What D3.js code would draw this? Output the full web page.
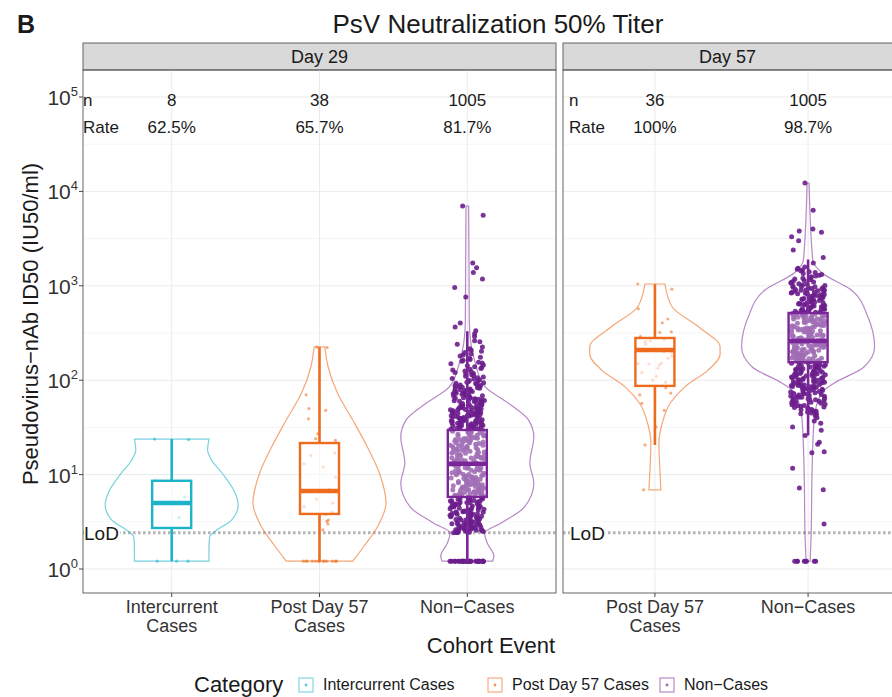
<!DOCTYPE html>
<html>
<head>
<meta charset="utf-8">
<script src="https://cdn.jsdelivr.net/npm/d3@7"></script>
<style>
  body { margin: 0; background: #fff; }
  text { font-family: "Liberation Sans", Arial, Helvetica, sans-serif; fill: #1a1a1a; }
</style>
</head>
<body>
<svg id="chart" width="892" height="697"></svg>
<script>
// ---- data ----
const titleText = "PsV Neutralization 50% Titer";
const panelTag = "B";
const facetLabels = ["Day 29", "Day 57"];
const groupNames = ["Intercurrent Cases", "Post Day 57 Cases", "Non-Cases"];
const day29Groups = ["Intercurrent Cases", "Post Day 57 Cases", "Non-Cases"];
const day57Groups = ["Post Day 57 Cases", "Non-Cases"];
const tickLabelLines = [["Intercurrent", "Cases"], ["Post Day 57", "Cases"], ["Non\u2212Cases"]];
const day29N = [8, 38, 1005];
const day29Rate = ["62.5%", "65.7%", "81.7%"];
const day57N = [36, 1005];
const day57Rate = ["100%", "98.7%"];
const lodValue = 2.42;
const yTicks = [1, 10, 100, 1000, 10000, 100000];

// box stats: [lower whisker, q1, median, q3, upper whisker]
const day29Boxes = [[1.21, 2.72, 5.0, 8.6, 23.8], [1.21, 3.83, 6.7, 21.6, 224], [1.21, 5.8, 13, 29.7, 330]];
const day57Boxes = [[20.6, 87, 209, 280, 1040], [26, 155, 260, 515, 1900]];

// violin outlines: [titer, relative density]
const interD29Violin = [[23.8,0.56],[18.2,0.54],[14.3,0.6],[9.9,0.78],[6.9,0.93],[4.76,1.0],[3.3,0.9],[2.59,0.68],[2.18,0.57],[1.59,0.56],[1.21,0.56]];
const postD29Violin = [[225,0.08],[138,0.13],[73,0.27],[37.8,0.5],[19.6,0.72],[10.4,0.9],[5.0,1.0],[2.79,0.87],[1.71,0.66],[1.21,0.5]];
const nonD29Violin = [[7000,0.02],[404,0.03],[152,0.12],[85,0.27],[57,0.62],[38,0.92],[25,1.0],[13.3,0.94],[8.1,1.0],[4.54,0.86],[3.07,0.51],[2.41,0.26],[1.88,0.3],[1.37,0.4],[1.21,0.38]];
const postD57Violin = [[1045,0.15],[596,0.26],[366,0.66],[225,0.98],[190,0.98],[128,0.8],[85,0.45],[57,0.23],[35,0.11],[21.6,0.06],[11.2,0.075],[6.9,0.09]];
const nonD57Violin = [[12270,0.015],[1876,0.07],[1367,0.21],[903,0.65],[467,0.9],[225,1.0],[138,0.84],[93,0.39],[73,0.2],[38,0.09],[11.2,0.06],[2.18,0.045],[1.21,0.03]];

// individual titers (approximate readings)
const interD29Points = [23.8, 23.5, 8.6, 5.8, 3.5, 1.21, 1.21, 1.21];
const postD29Points = [224, 222, 70, 50, 48, 39, 27, 24, 23, 17, 16, 13, 12, 9.4, 7.0, 6.7, 5.5, 5.0, 4.6, 4.0, 3.8, 3.3, 3.2, 3.0, 2.6,
  1.21, 1.21, 1.21, 1.21, 1.21, 1.21, 1.21, 1.21, 1.21, 1.21, 1.21, 1.21, 1.21];
const nonD29Points = [
  1.21,1.21,1.21,1.21,1.21,1.21,1.21,1.21,1.21,1.21,1.21,1.21,1.21,1.21,1.21,1.21,1.21,1.21,1.21,1.21,1.21,1.21,1.21,1.21,
  1.21,1.21,1.21,1.21,1.21,1.21,
  2.42,2.43,2.45,2.49,2.5,2.53,2.58,2.6,2.61,2.66,2.7,2.71,2.76,2.8,2.84,2.85,2.9,2.97,3,3.02,3.1,3.12,3.15,3.22,3.25,3.3,
  3.38,3.4,3.41,3.5,3.55,3.6,3.68,3.7,3.79,3.85,3.9,3.98,4.05,4.1,4.18,4.2,4.3,4.41,4.45,4.5,4.62,4.7,4.75,4.88,4.9,5.02,
  5.1,5.2,5.28,5.4,5.5,5.55,5.68,5.75,
  2.44,2.47,2.51,2.55,2.57,2.63,2.68,2.73,2.78,2.82,2.88,2.93,2.95,3.05,3.08,3.18,3.2,3.28,3.33,3.45,3.48,3.58,3.63,3.75,
  3.82,3.88,3.95,4.02,4.12,4.25,4.35,4.38,4.55,4.58,4.66,4.8,4.85,4.95,5.05,5.15,5.25,5.33,5.45,5.6,5.72,2.56,2.9,3.35,3.9,4.6,
  5.8,5.85,5.9,6,6.05,6.1,6.2,6.25,6.3,6.4,6.45,6.5,6.6,6.7,6.75,6.8,6.9,7,7.05,7.1,7.2,7.3,7.4,7.5,7.6,7.7,7.8,7.9,8,8.1,
  8.2,8.3,8.45,8.55,8.7,8.8,8.95,9.1,9.2,9.35,9.5,9.6,9.8,9.95,10.1,10.3,10.45,10.6,10.8,11,11.15,11.3,11.5,11.7,11.9,12.1,
  12.3,12.5,12.7,12.9,13.1,13.3,13.6,13.8,14,14.3,14.5,14.8,15,15.3,15.6,15.9,16.2,16.5,16.8,17.1,17.4,17.7,18,18.4,18.7,
  19.1,19.4,19.8,20.2,20.5,20.9,21.3,21.7,22.1,22.5,23,23.4,23.9,24.3,24.8,25.3,25.8,26.3,26.8,27.3,27.8,28.4,29,29.5,
  5.95,6.15,6.35,6.55,6.85,7.15,7.45,7.75,8.05,8.35,8.65,9,9.3,9.65,10,10.35,10.7,11.1,11.4,11.8,12.2,12.6,13,13.45,13.9,
  14.4,14.9,15.4,15.8,16.3,16.9,17.5,18.1,18.6,19.2,19.9,20.4,21,21.6,22.3,22.8,23.6,24.1,24.6,25.6,26.1,27,27.6,28.2,28.8,
  29.2,6.6,7.8,9.9,12.4,15.1,18.9,22.7,26.5,8.9,
  30,30.6,31.2,31.5,32.1,32.8,33.5,34,34.2,35,35.8,36.4,37,37.5,38.4,39,39.8,40.5,41.4,42,42.9,43.7,44.5,45.3,46.4,47.2,
  48,49.3,50,51.2,52.4,53.4,54.8,56,57.2,58.7,60,61.5,63,64.4,66,67.8,69.5,71,73,75,77,79.6,82,84,86.5,89,92,95,98,101,
  30.3,30.9,31.8,32.4,33.1,33.8,34.6,35.3,36.1,36.8,37.3,38,38.8,39.4,40.1,40.9,41.7,42.4,43.3,44.1,44.9,45.8,46.8,47.6,
  48.6,49.7,50.5,51.7,52.9,54,55.3,56.5,57.8,59.3,60.6,62.2,63.6,65.2,66.8,68.5,70.3,72,74,76,78,80.6,83,85,87.5,90,93,
  96.5,99,31.4,33.3,35.6,37.8,40.3,42.7,45.6,48.3,51.6,54.4,57.5,61,64.8,68.8,72.6,77.6,81.8,88,94,34.9,39.1,43.9,49,
  55.6,62.6,70.6,79,
  103,106,110,114,118,123,128,133,139,145,152,159,166,175,185,196,208,225,262,310,
  104,108,112,116,121,125,131,136,142,149,155,163,170,180,190,202,215,240,255,290,335,365,404,760,960,1180,1380,1550,1740,5600,7000];
const postD57Points = [1045, 920, 570, 445, 405, 325, 320, 290, 270, 260, 255, 240, 215, 210, 205, 200, 195, 180, 170, 152, 150,
  148, 145, 134, 120, 110, 100, 95, 83, 73, 70, 57, 48, 32, 20.6, 6.9];
const nonD57Points = [
  1.21,1.21,1.21,1.21,1.21,1.21,1.21,1.21,
  3.0,6.9,7.2,11.7,17,17.5,21,22,26,29.5,32,35,37,40,
  42,43.5,45,46,47.5,49,50,51.5,53,54,55.5,57,58,59.5,61,62,63.5,65,66.5,68,69,70.5,72,73.5,75,76.5,78,80,81.5,83,85,86.5,
  88,90,92,93.5,95,97,99,101,103,105,107,109,111,113,115.5,118,120,122.5,125,127.5,130,132.5,135,138,140.5,143,146,149,152,
  44,45.5,47,48.5,50.5,52,53.5,55,56.5,58.5,60,61.5,63,64.5,66,67.5,69.5,71,72.5,74,75.8,77.3,79,80.8,82.3,84,85.8,87.3,
  89,91,92.8,94.3,96,98,100,102,104,106,108,110,112,114.5,117,119,121.5,124,126.5,129,131.5,134,136.5,139,142,145,148,
  151,154,66,88,117,
  156,158,160,162,164,166,168,170,172,174,176,178,180,183,185,187,190,192,195,197,200,202,205,208,210,213,216,219,222,225,
  228,231,234,237,240,243,247,250,253,257,260,264,267,271,275,278,282,286,290,294,298,302,306,311,315,320,324,329,333,338,
  343,348,353,358,363,368,374,379,385,390,396,402,408,414,420,426,432,438,445,451,458,464,471,478,485,492,499,506,510,
  157,161,165,169,173,177,181,186,189,194,199,204,207,212,218,224,230,236,242,249,255,262,269,276,284,292,300,308,317,326,
  335,345,355,365,376,387,398,410,422,435,448,461,475,489,503,513,159,171,198,233,268,303,340,381,428,468,497,182,215,255,
  520,530,541,552,563,575,587,599,611,624,637,650,663,677,691,705,720,735,750,766,782,798,815,832,850,868,886,905,925,945,
  965,985,1010,1040,1070,1100,1140,1180,1220,1270,1320,1380,1440,1500,
  517,526,536,546,557,569,581,593,605,617,630,643,657,670,684,698,713,728,743,758,774,790,806,823,841,859,877,895,915,935,
  955,975,997,1020,1050,1085,1120,1160,1200,1245,1295,1350,1410,1470,1530,560,640,720,810,900,
  1580,1740,2000,2400,3000,3300,3700,3800,4000,6300,12270];

// ---- layout ----
const svg = d3.select("#chart");
const plotTop = 70, plotBottom = 593, stripTop = 43;
const y = d3.scaleLog().domain([0.5568, 193200]).range([plotBottom, plotTop]);
const color = d3.scaleOrdinal().domain(groupNames).range(["#1db4c9", "#ee6a1c", "#7a2699"]);

const panels = [
  { key: "d29", facet: facetLabels[0], groups: day29Groups, n: day29N, rate: day29Rate, boxes: day29Boxes,
    violins: [interD29Violin, postD29Violin, nonD29Violin], points: [interD29Points, postD29Points, nonD29Points],
    x0: 83, x1: 556, pad: 0 },
  { key: "d57", facet: facetLabels[1], groups: day57Groups, n: day57N, rate: day57Rate, boxes: day57Boxes,
    violins: [postD57Violin, nonD57Violin], points: [postD57Points, nonD57Points],
    x0: 563, x1: 900, pad: 6 }
];
panels.forEach(p => {
  p.x = d3.scalePoint().domain(p.groups).range([p.x0, p.x1]).padding(0.6);
});
const unit = d3.min(panels, p => p.x.step());
const violinHalf = 0.45 * unit;
const boxHalf = 0.132 * unit;
const jitterHalf = 0.118 * unit;

// deterministic jitter offset in [-0.5, 0.5)
function jitter(j) {
  const s = Math.sin(j * 12.9898 + 4.1414) * 43758.5453;
  return s - Math.floor(s) - 0.5;
}

// title and tag
svg.append("text").attr("x", 17).attr("y", 33).attr("font-size", 25).attr("font-weight", "bold").text(panelTag);
svg.append("text").attr("x", 498).attr("y", 33).attr("font-size", 26).attr("text-anchor", "middle").text(titleText);

const defs = svg.append("defs");

panels.forEach(p => {
  const x = p.x;
  const w = p.x1 - p.x0;
  defs.append("clipPath").attr("id", "clip-" + p.key)
    .append("rect").attr("x", p.x0).attr("y", plotTop).attr("width", w).attr("height", plotBottom - plotTop);

  // strip
  svg.append("rect").attr("x", p.x0).attr("y", stripTop).attr("width", w).attr("height", plotTop - stripTop)
    .attr("fill", "#d9d9d9").attr("stroke", "#555").attr("stroke-width", 0.9);
  svg.append("text").attr("x", (p.x0 + Math.min(p.x1, 892)) / 2).attr("y", 63)
    .attr("font-size", 18).attr("text-anchor", "middle").text(p.facet);

  const inner = svg.append("g").attr("clip-path", "url(#clip-" + p.key + ")");

  // grid
  inner.selectAll(".minor").data(yTicks.map(d => d * Math.sqrt(10))).join("line")
    .attr("x1", p.x0).attr("x2", p.x1).attr("y1", d => y(d)).attr("y2", d => y(d))
    .attr("stroke", "#f3f3f3").attr("stroke-width", 0.8);
  inner.selectAll(".major").data(yTicks).join("line")
    .attr("x1", p.x0).attr("x2", p.x1).attr("y1", d => y(d)).attr("y2", d => y(d))
    .attr("stroke", "#ebebeb").attr("stroke-width", 1);
  inner.selectAll(".vgrid").data(p.groups).join("line")
    .attr("x1", d => x(d)).attr("x2", d => x(d)).attr("y1", plotTop).attr("y2", plotBottom)
    .attr("stroke", "#ebebeb").attr("stroke-width", 1);

  // LoD line
  inner.append("line").attr("x1", p.x0).attr("x2", p.x1).attr("y1", y(lodValue)).attr("y2", y(lodValue))
    .attr("stroke", "#b5b5b5").attr("stroke-width", 3).attr("stroke-dasharray", "2.6,2.4");

  p.groups.forEach((grp, i) => {
    const cx = x(grp);
    const c = color(grp);
    const isNon = grp === "Non-Cases";

    // violin
    const area = d3.area().curve(d3.curveMonotoneY)
      .y(d => y(d[0]))
      .x0(d => cx - d[1] * violinHalf)
      .x1(d => cx + d[1] * violinHalf);
    inner.append("path").attr("d", area(p.violins[i]))
      .attr("fill", "none").attr("stroke", c).attr("stroke-opacity", isNon ? 0.55 : 0.6).attr("stroke-width", 1.2);

    // jittered points
    inner.append("g").selectAll("circle").data(p.points[i]).join("circle")
      .attr("cx", (d, j) => cx + jitter(j + i * 997) * 2 * jitterHalf)
      .attr("cy", d => y(d))
      .attr("r", isNon ? 2.5 : 1.6)
      .attr("fill", isNon ? "#6c1d8c" : c)
      .attr("fill-opacity", isNon ? 0.9 : 0.55);

    // box
    const b = p.boxes[i];
    const bg = inner.append("g").attr("stroke", c);
    bg.append("line").attr("x1", cx).attr("x2", cx).attr("y1", y(b[3])).attr("y2", y(b[4])).attr("stroke-width", 2.6);
    bg.append("line").attr("x1", cx).attr("x2", cx).attr("y1", y(b[1])).attr("y2", y(b[0])).attr("stroke-width", 2.6);
    bg.append("rect").attr("x", cx - boxHalf).attr("width", 2 * boxHalf)
      .attr("y", y(b[3])).attr("height", y(b[1]) - y(b[3]))
      .attr("fill", "#fff").attr("fill-opacity", isNon ? 0.36 : 0.6).attr("stroke-width", 2.4);
    bg.append("line").attr("x1", cx - boxHalf).attr("x2", cx + boxHalf).attr("y1", y(b[2])).attr("y2", y(b[2]))
      .attr("stroke-width", 4.5);

    // n / rate
    svg.append("text").attr("x", cx).attr("y", 106).attr("font-size", 17).attr("text-anchor", "middle").text(p.n[i]);
    svg.append("text").attr("x", cx).attr("y", 133).attr("font-size", 17).attr("text-anchor", "middle").text(p.rate[i]);

    // x tick + labels
    svg.append("line").attr("x1", cx).attr("x2", cx).attr("y1", plotBottom).attr("y2", plotBottom + 4)
      .attr("stroke", "#444").attr("stroke-width", 1);
    const lines = tickLabelLines[groupNames.indexOf(grp)];
    lines.forEach((t, k) => {
      svg.append("text").attr("x", cx).attr("y", 613 + k * 19).attr("font-size", 18)
        .attr("text-anchor", "middle").style("fill", "#333").text(t);
    });
  });

  svg.append("text").attr("x", p.x0 + p.pad).attr("y", 106).attr("font-size", 17).text("n");
  svg.append("text").attr("x", p.x0 + p.pad).attr("y", 133).attr("font-size", 17).text("Rate");

  // LoD label
  const lodY = y(lodValue);
  const lodLabel = svg.append("g");
  const lt = lodLabel.append("text").attr("x", p.x0 + p.pad + 1).attr("y", lodY + 7).attr("font-size", 19).text("LoD");
  const len = lt.node().getComputedTextLength();
  lodLabel.insert("rect", "text").attr("x", p.x0 + p.pad + 1).attr("y", lodY - 4).attr("width", len + 1).attr("height", 8)
    .attr("fill", "#fff");

  // border
  svg.append("rect").attr("x", p.x0).attr("y", plotTop).attr("width", w).attr("height", plotBottom - plotTop)
    .attr("fill", "none").attr("stroke", "#555").attr("stroke-width", 0.9);
});

// y axis
const yAxis = svg.append("g");
yTicks.forEach(v => {
  yAxis.append("line").attr("x1", 79).attr("x2", 83).attr("y1", y(v)).attr("y2", y(v)).attr("stroke", "#444");
  const t = yAxis.append("text").attr("x", 78).attr("y", y(v) + 8).attr("font-size", 21).attr("text-anchor", "end").style("fill", "#333");
  t.append("tspan").text("10");
  t.append("tspan").attr("dy", -9).attr("font-size", 13).text(String(Math.round(Math.log10(v))));
});
svg.append("text").attr("transform", "translate(38,324) rotate(-90)").attr("font-size", 22)
  .attr("text-anchor", "middle").text("Pseudovirus\u2212nAb ID50 (IU50/ml)");
svg.append("text").attr("x", 491).attr("y", 653).attr("font-size", 22).attr("text-anchor", "middle").text("Cohort Event");

// legend
const legendKeyX = [299, 488, 660];
const legend = svg.append("g");
legend.append("text").attr("x", 194).attr("y", 692).attr("font-size", 22).text("Category");
groupNames.forEach((g, k) => {
  const lx = legendKeyX[k];
  legend.append("rect").attr("x", lx).attr("y", 678).attr("width", 14).attr("height", 14)
    .attr("fill", "#fff").attr("stroke", color(g)).attr("stroke-opacity", 0.55).attr("stroke-width", 1.2);
  legend.append("circle").attr("cx", lx + 7).attr("cy", 685).attr("r", 1.4).attr("fill", color(g)).attr("fill-opacity", 0.7);
  legend.append("text").attr("x", lx + 24).attr("y", 690).attr("font-size", 16).text(g.replace("-", "\u2212"));
});
</script>
</body>
</html>
